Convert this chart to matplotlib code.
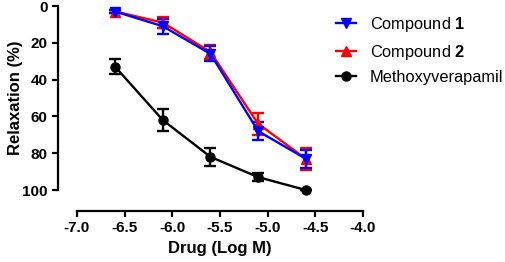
import matplotlib
matplotlib.use("Agg")
import matplotlib.pyplot as plt
from matplotlib.lines import Line2D

plt.rcParams['font.family'] = ['Liberation Sans', 'DejaVu Sans']
plt.rcParams['mathtext.fontset'] = 'custom'
plt.rcParams['mathtext.rm'] = 'Liberation Sans'
plt.rcParams['mathtext.bf'] = 'Liberation Sans:bold'

# log molar drug concentration
dose = [-6.6, -6.1, -5.6, -5.1, -4.6]

comp1 = [3, 11, 26, 68, 83]
comp1_err = [1, 4, 4, 5, 5]
comp2 = [3, 9, 25, 64, 83]
comp2_err = [1, 3, 4, 6, 6]
methoxy = [33, 62, 82, 93, 100]
methoxy_err = [4, 6, 5, 2, 0]

labels = [r'Compound $\mathbf{1}$', r'Compound $\mathbf{2}$', 'Methoxyverapamil']
xticks = [-7.0, -6.5, -6.0, -5.5, -5.0, -4.5, -4.0]
yticks = [0, 20, 40, 60, 80, 100]

W, H = 505, 262
fig = plt.figure(figsize=(W/100, H/100), dpi=100)
ax = fig.add_axes([77/W, 1 - 190/H, (363 - 77)/W, (190 - 6)/H])

kw = dict(lw=1.7, capsize=4, capthick=1.7, elinewidth=1.7, markersize=6.5, clip_on=False)
ax.errorbar(dose, comp2, yerr=comp2_err, color='#ff0000', marker='^', **kw)
ax.errorbar(dose, comp1, yerr=comp1_err, color='#0000ff', marker='v', **kw)
ax.errorbar(dose, methoxy, yerr=methoxy_err, color='black', marker='o', **kw)

ax.set_xlim(-7.0, -4.0)
ax.set_ylim(100, 0)
ax.set_xticks(xticks)
ax.set_xticklabels(['%.1f' % t for t in xticks])
ax.set_yticks(yticks)

for s in ['top', 'right']:
    ax.spines[s].set_visible(False)
ax.spines['left'].set_position(('outward', 13.7))
ax.spines['bottom'].set_position(('outward', 15))
ax.spines['left'].set_linewidth(1.6)
ax.spines['bottom'].set_linewidth(1.6)
ax.tick_params(width=1.6, length=4.5, labelsize=11, pad=3)
for t in ax.get_xticklabels() + ax.get_yticklabels():
    t.set_fontweight('bold')

ax.set_xlabel('Drug (Log M)', fontsize=12, fontweight='bold', labelpad=4)
ax.set_ylabel('Relaxation (%)', fontsize=12, fontweight='bold', labelpad=-1)

handles = [
    Line2D([], [], color='#0000ff', marker='v', lw=1.7, markersize=6.5),
    Line2D([], [], color='#ff0000', marker='^', lw=1.7, markersize=6.5),
    Line2D([], [], color='black', marker='o', lw=1.7, markersize=6.5),
]
fig.legend(handles, labels, loc='upper left', bbox_to_anchor=(336/W, 1 - 15/H),
           frameon=False, fontsize=11.8, handlelength=1.2, handletextpad=0.85,
           labelspacing=0.52, borderpad=0, borderaxespad=0)

fig.savefig('out.png', dpi=100)
